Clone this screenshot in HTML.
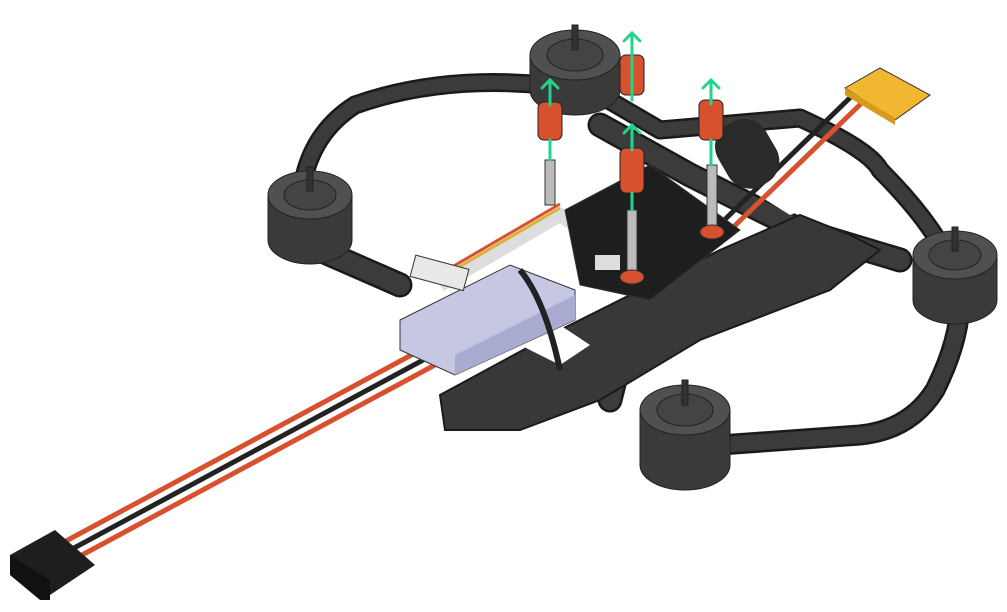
<!DOCTYPE html>
<html><head><style>html,body{margin:0;padding:0;background:#fff}svg{display:block}</style></head>
<body>
<svg width="1007" height="612" viewBox="0 0 1007 612" xmlns="http://www.w3.org/2000/svg">
<g fill="none" stroke-linejoin="round" stroke-linecap="round">
<g stroke="#1a1a1a">
<path d="M300,215 Q300,140 355,105 Q440,75 545,85" stroke-width="19"/>
<path d="M600,95 L660,130 L800,118 Q870,150 880,170 Q930,220 950,262" stroke-width="19"/>
<path d="M960,300 Q960,340 935,390 Q910,430 860,435 L720,445" stroke-width="21"/>
<path d="M320,250 L400,285" stroke-width="25"/>
<path d="M600,125 L690,175 L800,230 L900,260" stroke-width="25"/>
<path d="M680,330 L620,360 L610,400" stroke-width="25"/>
</g>
<g stroke="#3b3b3b">
<path d="M300,215 Q300,140 355,105 Q440,75 545,85" stroke-width="14"/>
<path d="M600,95 L660,130 L800,118 Q870,150 880,170 Q930,220 950,262" stroke-width="14"/>
<path d="M960,300 Q960,340 935,390 Q910,430 860,435 L720,445" stroke-width="16"/>
<path d="M320,250 L400,285" stroke-width="20"/>
<path d="M600,125 L690,175 L800,230 L900,260" stroke-width="20"/>
<path d="M680,330 L620,360 L610,400" stroke-width="20"/>
</g>
</g>
<polygon points="440,395 560,330 600,310 720,250 800,215 850,235 880,250 830,290 700,340 600,400 520,430 445,430" fill="#383838" stroke="#1a1a1a" stroke-width="2"/>
<polygon points="520,345 560,325 590,345 560,365" fill="#fff"/>
<polygon points="750,190 790,175 830,200 790,215" fill="#fff"/>
<g stroke-linecap="butt">
<line x1="430" y1="345" x2="40" y2="555" stroke="#d8512f" stroke-width="5"/>
<line x1="438" y1="352" x2="48" y2="562" stroke="#222" stroke-width="5"/>
<line x1="446" y1="359" x2="56" y2="569" stroke="#d8512f" stroke-width="5"/>
</g>
<polygon points="10,555 55,530 95,565 50,595" fill="#1e1e1e"/>
<polygon points="10,555 50,580 50,600 40,600 10,575" fill="#111"/>
<line x1="720" y1="240" x2="870" y2="95" stroke="#d8512f" stroke-width="5"/>
<line x1="712" y1="232" x2="860" y2="88" stroke="#222" stroke-width="5"/>
<polygon points="845,88 880,68 930,95 895,120" fill="#f2b731" stroke="#333"/>
<polygon points="845,88 895,118 895,125 845,95" fill="#d89a1a"/>
<rect x="720" y="120" width="55" height="70" rx="25" fill="#2a2a2a" transform="rotate(-30 745 155)"/>
<g stroke="#222">
<g transform="translate(575,55)"><path d="M-45,0 V35 A45,25 0 0 0 45,35 V0" fill="#3a3a3a"/><ellipse rx="45" ry="25" fill="#505050"/><ellipse rx="28" ry="16" fill="#444"/><rect x="-3" y="-30" width="6" height="25" fill="#333"/></g>
<g transform="translate(310,195)"><path d="M-42,0 V45 A42,24 0 0 0 42,45 V0" fill="#3a3a3a"/><ellipse rx="42" ry="24" fill="#505050"/><ellipse rx="26" ry="15" fill="#444"/><rect x="-3" y="-28" width="6" height="24" fill="#333"/></g>
<g transform="translate(955,255)"><path d="M-42,0 V45 A42,24 0 0 0 42,45 V0" fill="#3a3a3a"/><ellipse rx="42" ry="24" fill="#505050"/><ellipse rx="26" ry="15" fill="#444"/><rect x="-3" y="-28" width="6" height="24" fill="#333"/></g>
<g transform="translate(685,410)"><path d="M-45,0 V55 A45,25 0 0 0 45,55 V0" fill="#3a3a3a"/><ellipse rx="45" ry="25" fill="#505050"/><ellipse rx="28" ry="16" fill="#444"/><rect x="-3" y="-30" width="6" height="25" fill="#333"/></g>
</g>
<polygon points="400,320 510,265 575,290 575,320 455,375 400,350" fill="#c5c7e3" stroke="#333"/>
<polygon points="455,355 575,295 575,320 455,375" fill="#a9abd0"/>
<path d="M440,285 L560,215 L590,235 L590,270" stroke="#ddd" stroke-width="14" fill="none"/>
<path d="M440,278 L560,208" stroke="#d9b13a" stroke-width="3" fill="none"/>
<path d="M440,274 L560,204" stroke="#d8512f" stroke-width="3" fill="none"/>
<rect x="412" y="262" width="55" height="22" fill="#e8e8e8" stroke="#333" transform="rotate(15 440 273)"/>
<path d="M520,270 Q545,300 560,370" stroke="#222" stroke-width="6" fill="none"/>
<polygon points="565,210 650,165 740,230 650,300 580,285" fill="#1e1e1e" stroke="#333"/>
<rect x="595" y="255" width="25" height="15" fill="#ddd"/>
<rect x="545" y="160" width="10" height="45" fill="#bbb" stroke="#333"/>
<rect x="627" y="210" width="10" height="65" fill="#bbb" stroke="#333"/>
<rect x="707" y="165" width="10" height="65" fill="#bbb" stroke="#333"/>
<ellipse cx="632" cy="277" rx="12" ry="7" fill="#d8512f" stroke="#333"/>
<ellipse cx="712" cy="232" rx="12" ry="7" fill="#d8512f" stroke="#333"/>
<g fill="#d8512f" stroke="#222">
<rect x="538" y="102" width="24" height="38" rx="6"/>
<rect x="620" y="55" width="24" height="40" rx="6"/>
<rect x="699" y="100" width="24" height="40" rx="6"/>
<rect x="620" y="148" width="24" height="45" rx="6"/>
</g>
<g stroke="#20d48a" stroke-width="3" fill="none" stroke-linecap="round">
<path d="M550,160 V140 M550,105 V80 M542,88 L550,80 L558,88"/>
<path d="M632,100 V33 M624,41 L632,33 L640,41"/>
<path d="M711,165 V140 M711,104 V80 M703,88 L711,80 L719,88"/>
<path d="M632,210 V193 M632,150 V125 M624,133 L632,125 L640,133"/>
</g>
</svg>
</body></html>
